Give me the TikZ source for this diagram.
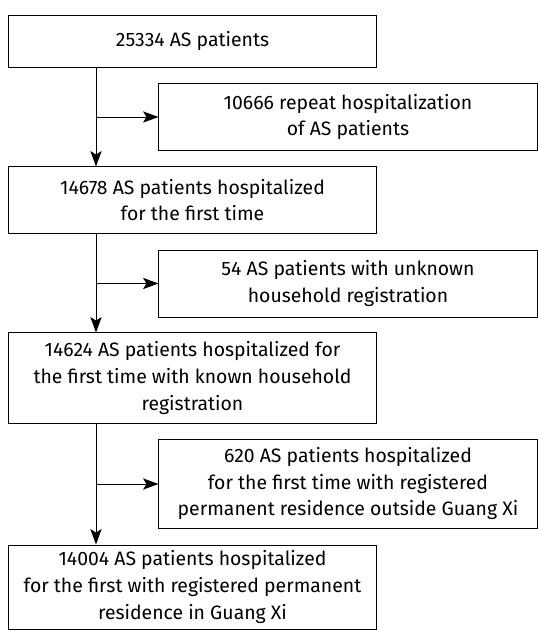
\documentclass[tikz,border=0pt]{standalone}
\usepackage{fontspec}
\setmainfont{Fira Sans}
\usetikzlibrary{arrows.meta}
\begin{document}
\begin{tikzpicture}[x=0.025cm, y=-0.025cm, line width=0.7pt, >={Stealth[length=11pt,width=8pt,inset=2.5pt]},
main box/.style={rectangle,draw,inner sep=0pt,align=center,minimum width=9.175cm,font=\fontsize{13.8}{19}\selectfont},
side box/.style={main box,minimum width=9.45cm}]
\useasboundingbox (0,0) rectangle (538,630);
\node[main box,minimum height=1.275cm] (total) at (192.5,41.5) {25334 AS patients};
\node[side box,minimum height=1.65cm] (repeat) at (348,117) {10666 repeat hospitalization\\of AS patients};
\node[main box,minimum height=1.65cm] (first) at (192.5,200) {14678 AS patients hospitalized\\for the first time};
\node[side box,minimum height=1.675cm] (unknown) at (348,283.5) {54 AS patients with unknown\\household registration};
\node[main box,minimum height=2.25cm] (known) at (192.5,378) {14624 AS patients hospitalized for\\the first time with known household\\registration};
\node[side box,minimum height=2.225cm] (outside) at (348,483.5) {620 AS patients hospitalized\\for the first time with registered\\permanent residence outside Guang Xi};
\node[main box,minimum height=2.1cm] (guangxi) at (192.5,587) {14004 AS patients hospitalized\\for the first with registered permanent\\residence in Guang Xi};
% branch points on the trunk
\coordinate (j1) at (96,117);
\coordinate (j2) at (96,283.5);
\coordinate (j3) at (96,484);
\draw [->] (j1 |- total.south) -- (j1 |- first.north);
\draw [->] (j1) -- (repeat.west);
\draw [->] (j2 |- first.south) -- (j2 |- known.north);
\draw [->] (j2) -- (unknown.west);
\draw [->] (j3 |- known.south) -- (j3 |- guangxi.north);
\draw [->] (j3) -- (outside.west |- j3);
\end{tikzpicture}
\end{document}
